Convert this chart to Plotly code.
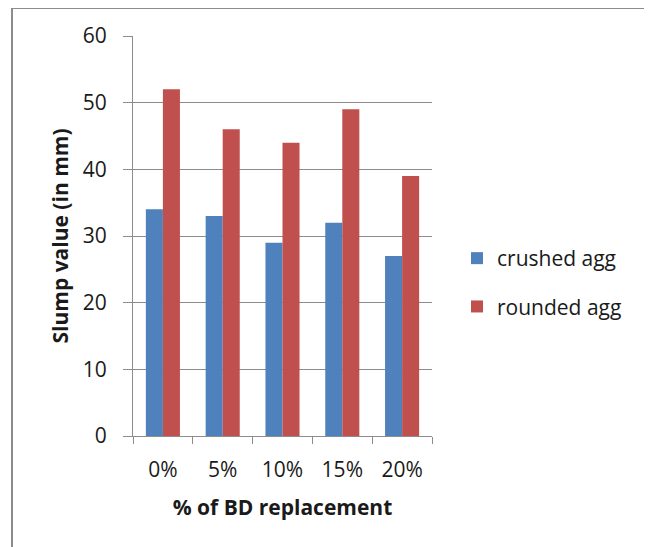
import plotly.graph_objects as go

categories = ["0%", "5%", "10%", "15%", "20%"]
crushed_agg = [34, 33, 29, 32, 27]
rounded_agg = [52, 46, 44, 49, 39]
y_ticks = [0, 10, 20, 30, 40, 50, 60]

FONT = "'Open Sans', Lato, sans-serif"
GRID = "#8c8c8c"

# page body has an 8px margin, so the figure starts at (8, 8) on screen
OFF = 8
W, H = 652 - OFF, 547 - OFF
L, T = 133 - OFF, 36 - OFF
pw, ph = 299, 400
R, B = W - L - pw, H - T - ph

fig = go.Figure()
fig.add_trace(go.Bar(x=categories, y=crushed_agg, name="crushed agg",
                     marker=dict(color="#4F81BD", line=dict(width=0)),
                     legendgroup="a"))
fig.add_trace(go.Bar(x=categories, y=rounded_agg, name="rounded agg",
                     marker=dict(color="#C0504D", line=dict(width=0)),
                     legendgroup="b"))

fig.update_layout(
    width=W, height=H,
    margin=dict(l=L, r=R, t=T, b=B),
    paper_bgcolor="white", plot_bgcolor="white",
    font=dict(family=FONT, color="#1a1a1a", size=18),
    barmode="group", bargap=0.43, bargroupgap=0,
    legend=dict(x=(457 - 133) / pw, y=(436 - 238) / ph, xanchor="left", yanchor="top",
                font=dict(size=21), tracegroupgap=18, bgcolor="rgba(0,0,0,0)",
                itemwidth=30),
    xaxis=dict(type="category", showline=True, linecolor=GRID, linewidth=1,
               ticks="outside", ticklen=7, tickcolor=GRID, tickson="boundaries",
               tickfont=dict(size=21), ticklabelstandoff=15,
               title=dict(text="<b>% of BD replacement</b>", font=dict(size=21), standoff=18)),
    yaxis=dict(range=[0, 60], tickvals=y_ticks, showline=True, linecolor=GRID, linewidth=1,
               showgrid=True, gridcolor=GRID, gridwidth=1, zeroline=False,
               ticks="outside", ticklen=9, tickcolor=GRID,
               tickfont=dict(size=21), ticklabelstandoff=12,
               title=dict(text="<b>Slump value (in mm)</b>", font=dict(size=21), standoff=8)),
    shapes=[dict(type="rect", xref="paper", yref="paper",
                 x0=(12 - 133) / pw, x1=(645 - 133) / pw,
                 y0=(436 - 560) / ph, y1=(436 - 8) / ph,
                 line=dict(color="#8c8c8c", width=2), layer="below")],
)

fig.write_html("out.html")
